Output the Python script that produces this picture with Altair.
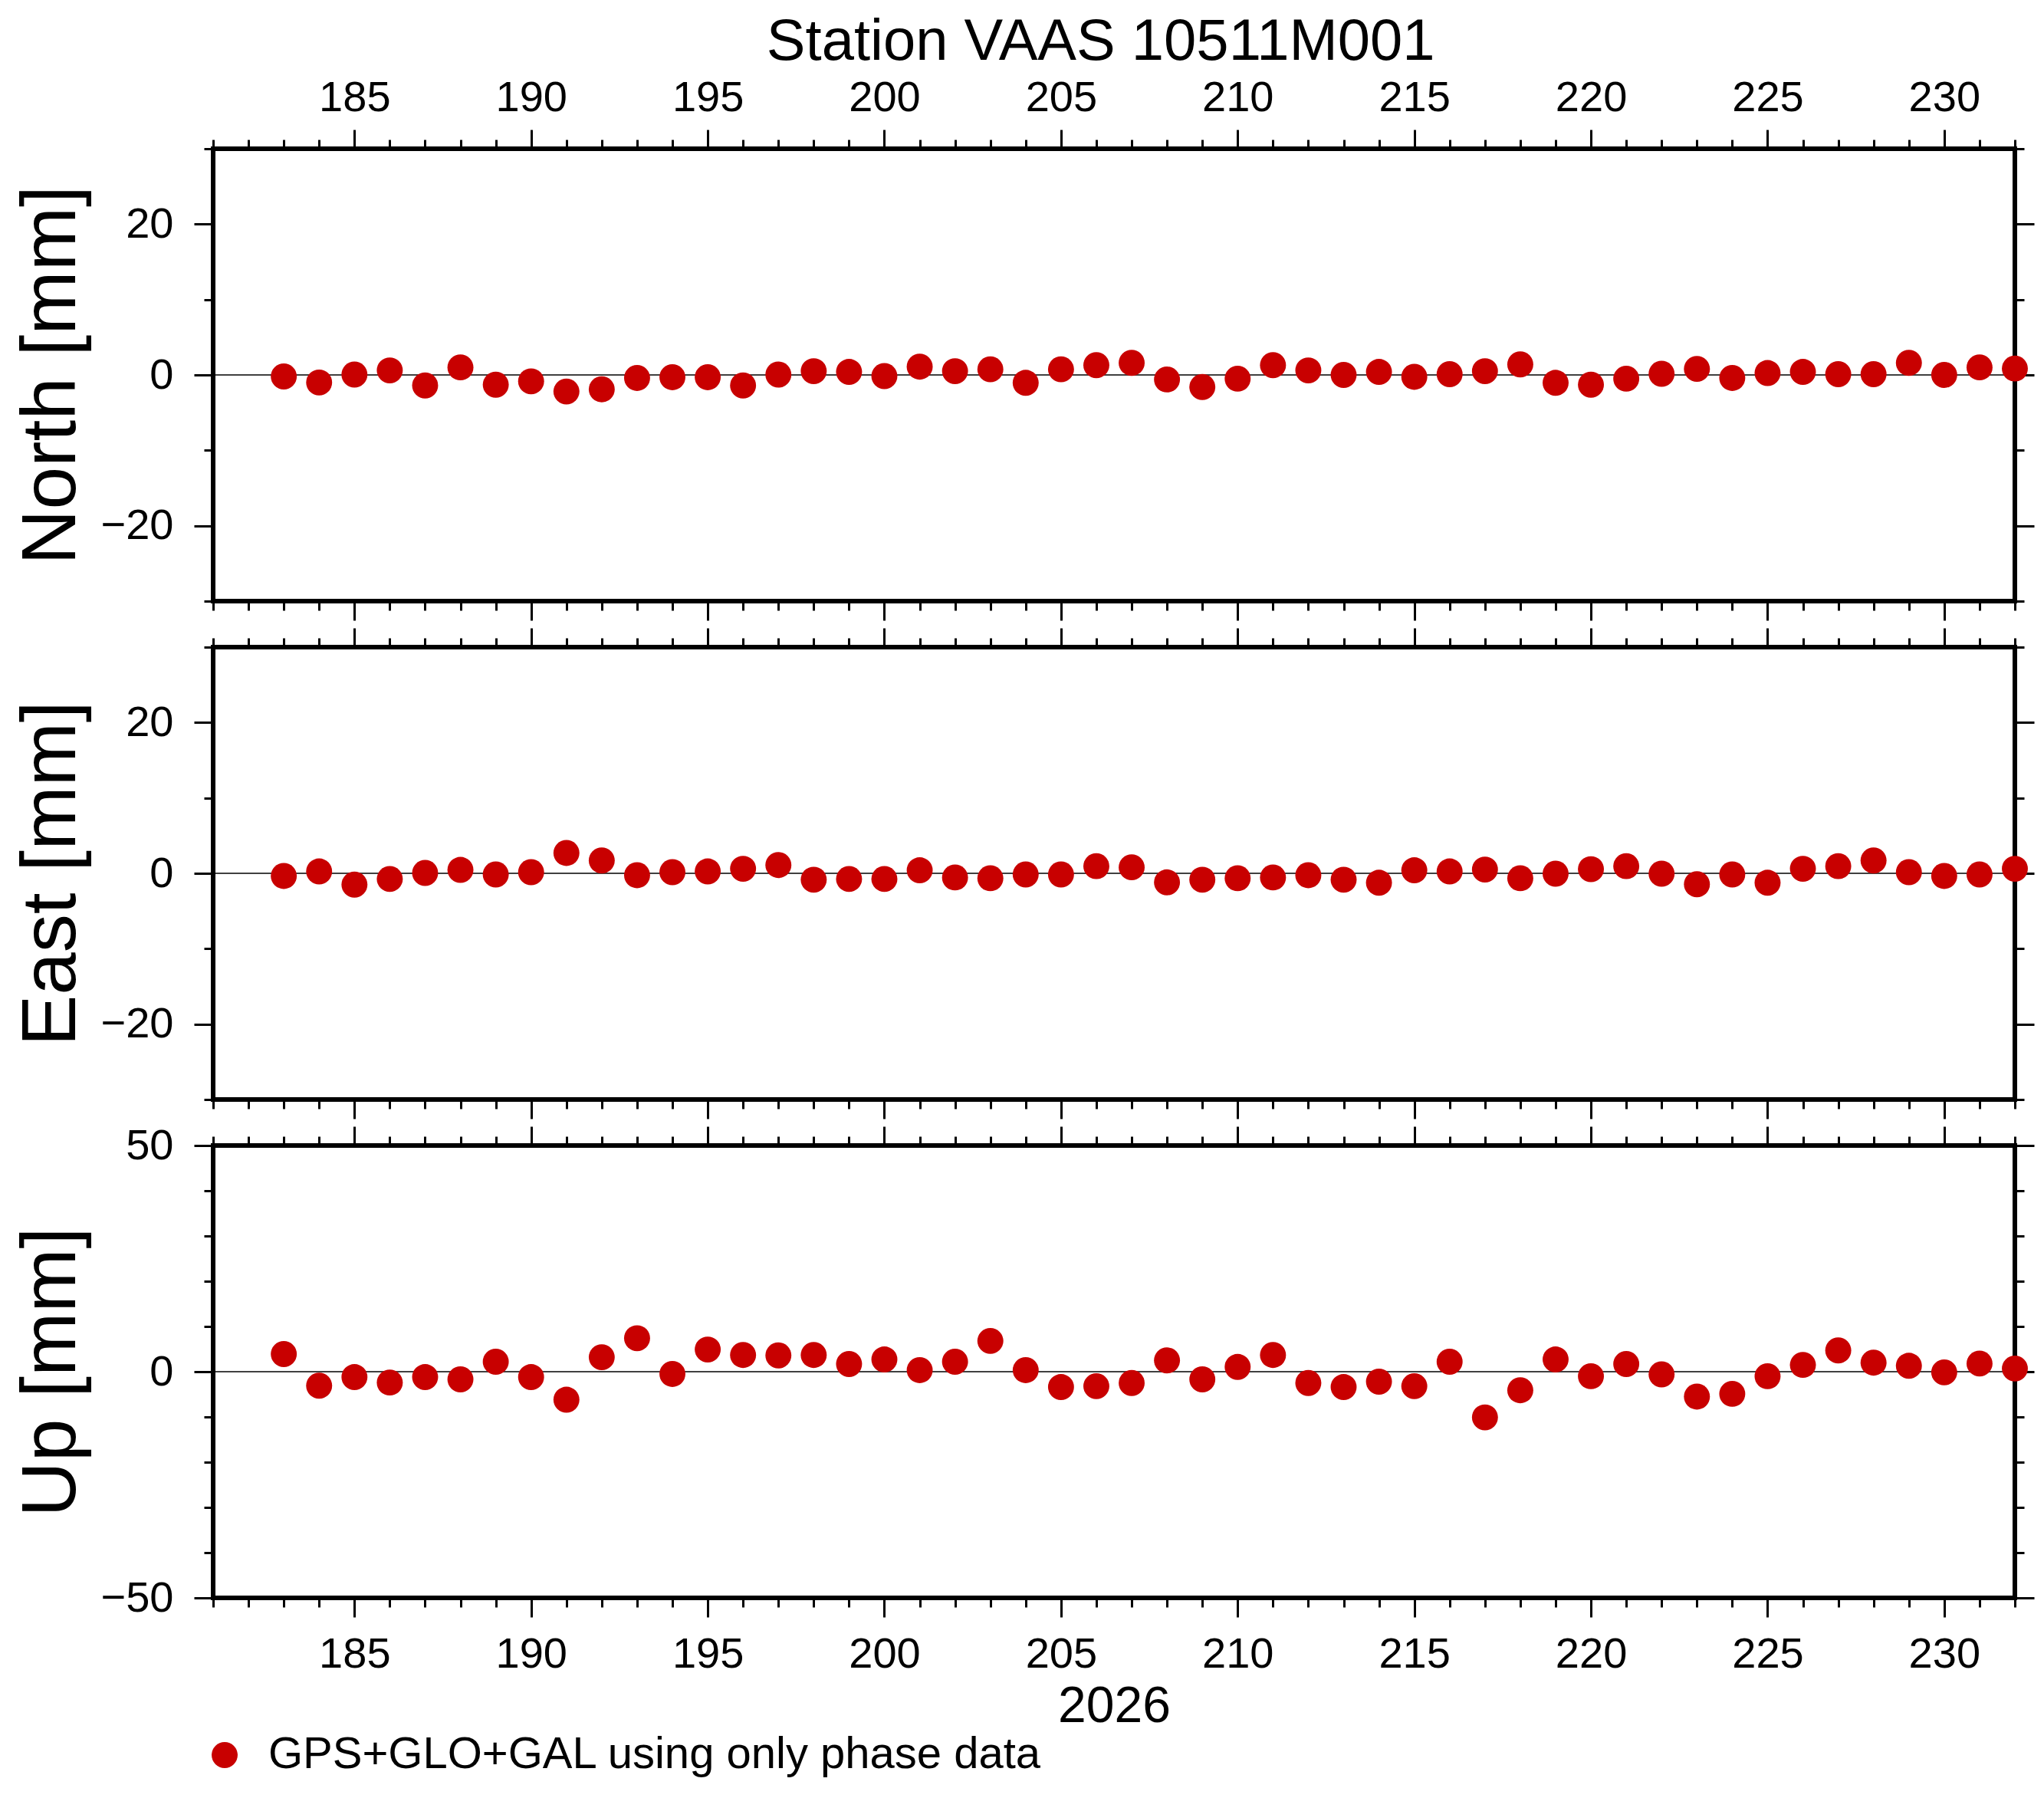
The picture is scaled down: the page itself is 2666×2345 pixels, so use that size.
import altair as alt
import pandas as pd

FONT = "Liberation Sans"
RED = "#c80000"

TITLE = "Station VAAS 10511M001"
LEGEND_LABEL = "GPS+GLO+GAL using only phase data"
X_TITLE = "2026"

days = list(range(183, 233))
north = [-0.2, -1.0, 0.05, 0.6, -1.4, 1.0, -1.3, -0.85, -2.2, -1.9, -0.4, -0.3, -0.3, -1.4,
         0.05, 0.5, 0.4, -0.15, 1.1, 0.5, 0.75, -1.05, 0.75, 1.3, 1.6, -0.6, -1.6, -0.5, 1.3,
         0.6, 0.0, 0.4, -0.25, 0.1, 0.5,
         1.4, -1.05, -1.3, -0.5, 0.15, 0.8, -0.4, 0.25, 0.4, 0.1, 0.1, 1.6, 0.0, 1.0, 0.85]
east = [-0.35, 0.25, -1.5, -0.75, 0.05, 0.45, -0.15, 0.15, 2.7, 1.7, -0.25, 0.15, 0.25, 0.6,
        1.1, -0.85, -0.75, -0.75, 0.4, -0.55, -0.65, -0.15, -0.15, 0.95, 0.8, -1.2, -0.85, -0.65,
        -0.55, -0.25, -0.85, -1.25, 0.4, 0.25, 0.5,
        -0.65, -0.05, 0.55, 0.95, -0.05, -1.45, -0.15, -1.25, 0.6, 0.95, 1.7, 0.15, -0.35, -0.15, 0.6]
up = [3.9, -3.1, -1.2, -2.4, -1.2, -1.7, 2.2, -1.2, -6.2, 3.2, 7.4, -0.5, 4.9, 3.7,
      3.6, 3.7, 1.7, 2.7, 0.35, 2.2, 6.8, 0.35, -3.4, -3.2, -2.5, 2.5, -1.7, 1.05, 3.7,
      -2.5, -3.4, -2.2, -3.2, 2.2, -10.1,
      -4.1, 2.7, -1.0, 1.7, -0.6, -5.5, -4.9, -1.0, 1.5, 4.7, 2.0, 1.3, -0.15, 1.8, 0.7]

x_domain = [181, 232]
x_major = list(range(185, 231, 5))
x_minor = list(range(181, 233))
ne_domain = [-30, 30]
ne_major = [-20, 0, 20]
ne_minor = [-30, -20, -10, 0, 10, 20, 30]
up_domain = [-50, 50]
up_major = [-50, 0, 50]
up_minor = [-50, -40, -30, -20, -10, 0, 10, 20, 30, 40, 50]
zero_line = [0]

df = pd.DataFrame({"day": days, "north": north, "east": east, "up": up,
                   "series": [LEGEND_LABEL] * len(days)})
zdf = pd.DataFrame({"z": zero_line})

W, H = 2350, 590
MAJ, MIN = 25, 12
DOT = 1150


def axis(orient, values, size, labels=False, title=None, pad=10, tpad=10):
    d = dict(orient=orient, values=values, tickSize=size, tickWidth=3, tickColor="black",
             domain=False, grid=False, labels=labels, ticks=True, title=title)
    if labels:
        d.update(labelFont=FONT, labelFontSize=56, labelColor="black", labelPadding=pad,
                 labelFlush=False, labelOverlap=False)
    if title:
        d.update(titleFont=FONT, titleFontSize=100 if orient == "left" else 66,
                 titleFontWeight="normal", titleColor="black", titlePadding=tpad)
    return alt.Axis(**d)


def panel(field, ytitle, ydom, ymaj, ymin, top_labels, bottom_labels, legend=False):
    xs = alt.Scale(domain=x_domain, nice=False, zero=False)
    ys = alt.Scale(domain=ydom, nice=False, zero=False)
    rule = alt.Chart(zdf).mark_rule(color="black", strokeWidth=1.3).encode(
        y=alt.Y("z:Q", scale=ys, axis=None))
    enc = dict(
        x=alt.X("day:Q", scale=xs,
                axis=axis("bottom", x_major, MAJ, labels=bottom_labels,
                          title=X_TITLE if bottom_labels else None, pad=21, tpad=8)),
        y=alt.Y(f"{field}:Q", scale=ys,
                axis=axis("left", ymaj, MAJ, labels=True, title=ytitle, pad=27, tpad=13)),
    )
    if legend:
        enc["color"] = alt.Color(
            "series:N", scale=alt.Scale(domain=[LEGEND_LABEL], range=[RED]),
            legend=alt.Legend(orient="none", legendX=-14, legendY=2066, title=None,
                              labelFont=FONT, labelFontSize=58, labelColor="black",
                              labelLimit=0,
                              symbolType="circle", symbolSize=DOT, symbolOpacity=1,
                              symbolStrokeWidth=0, labelOffset=28, padding=0))
    pts = alt.Chart(df).mark_circle(size=DOT, opacity=1, color=RED).encode(**enc)
    l2 = alt.Chart(df).mark_circle(opacity=0).encode(
        x=alt.X("day:Q", scale=xs, axis=axis("bottom", x_minor, MIN)),
        y=alt.Y(f"{field}:Q", scale=ys, axis=axis("left", ymin, MIN)))
    l3 = alt.Chart(df).mark_circle(opacity=0).encode(
        x=alt.X("day:Q", scale=xs, axis=axis("top", x_major, MAJ, labels=top_labels, pad=13)),
        y=alt.Y(f"{field}:Q", scale=ys, axis=axis("right", ymaj, MAJ)))
    l4 = alt.Chart(df).mark_circle(opacity=0).encode(
        x=alt.X("day:Q", scale=xs, axis=axis("top", x_minor, MIN)),
        y=alt.Y(f"{field}:Q", scale=ys, axis=axis("right", ymin, MIN)))
    return alt.layer(rule, pts, l2, l3, l4).resolve_axis(
        x="independent", y="independent").properties(width=W, height=H)


p1 = panel("north", "North [mm]", ne_domain, ne_major, ne_minor, True, False)
p2 = panel("east", "East [mm]", ne_domain, ne_major, ne_minor, False, False)
p3 = panel("up", "Up [mm]", up_domain, up_major, up_minor, False, True, legend=True)

chart = alt.vconcat(p1, p2, p3, spacing=60, bounds="flush").properties(
    title=alt.TitleParams(TITLE, font=FONT, fontSize=76, fontWeight="normal", color="black",
                          anchor="middle", offset=2, dx=100),
    padding={"left": 6, "top": 9, "right": 0, "bottom": 0},
    background="white",
).configure_view(stroke="black", strokeWidth=6)

chart.save("out.html", embed_options={"renderer": "svg", "actions": False})
